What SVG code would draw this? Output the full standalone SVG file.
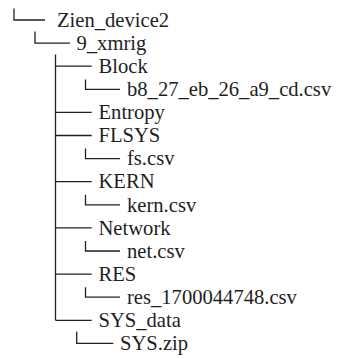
<svg xmlns="http://www.w3.org/2000/svg" width="338" height="359" viewBox="0 0 338 359">
  <style>
    .bg { fill: #ffffff; }
    .label { font-family: "Liberation Serif", "Times New Roman", serif; font-size: 20.6px; fill: #1e1e1e; }
    .edge { fill: none; stroke: #1f1f2a; stroke-width: 1.3; stroke-linecap: butt; }
  </style>
  <rect class="bg" x="0" y="0" width="338" height="359"/>

  <!-- tree branches -->
  <g id="connectors">
    <!-- root -->
    <path class="edge" d="M14,8.5 V20 H45"/>
    <!-- 9_xmrig -->
    <path class="edge" d="M35,31.5 V43.1 H70"/>
    <!-- trunk for the children of 9_xmrig -->
    <path class="edge" d="M55.5,54.6 V320.3"/>
    <path class="edge" d="M55.5,66.2 H91.7"/>
    <path class="edge" d="M55.5,112.4 H91.7"/>
    <path class="edge" d="M55.5,135.5 H91.7"/>
    <path class="edge" d="M55.5,181.7 H91.7"/>
    <path class="edge" d="M55.5,227.9 H91.7"/>
    <path class="edge" d="M55.5,274.1 H91.7"/>
    <path class="edge" d="M55.5,320.3 H91.7"/>
    <!-- leaf files -->
    <path class="edge" d="M85.5,79.5 V89.3 H120"/>
    <path class="edge" d="M85.5,148.6 V158.6 H120"/>
    <path class="edge" d="M85.5,194.8 V204.8 H120"/>
    <path class="edge" d="M85.5,241 V251 H120"/>
    <path class="edge" d="M85.5,287.2 V297.2 H120"/>
    <path class="edge" d="M76.7,331.7 V343.4 H113.3"/>
  </g>

  <g id="zien_device2"><text class="label" x="57" y="26.7">Zien_device2</text></g>
  <g id="xmrig"><text class="label" x="76.5" y="49.8">9_xmrig</text></g>
  <g id="block"><text class="label" x="98.5" y="72.9">Block</text></g>
  <g id="block_csv"><text class="label" x="127" y="96">b8_27_eb_26_a9_cd.csv</text></g>
  <g id="entropy"><text class="label" x="98.5" y="119.1">Entropy</text></g>
  <g id="flsys"><text class="label" x="98.5" y="142.2">FLSYS</text></g>
  <g id="fs_csv"><text class="label" x="127" y="165.3">fs.csv</text></g>
  <g id="kern"><text class="label" x="98.5" y="188.4">KERN</text></g>
  <g id="kern_csv"><text class="label" x="127" y="211.5">kern.csv</text></g>
  <g id="network"><text class="label" x="98.5" y="234.6">Network</text></g>
  <g id="net_csv"><text class="label" x="127" y="257.7">net.csv</text></g>
  <g id="res"><text class="label" x="98.5" y="280.8">RES</text></g>
  <g id="res_csv"><text class="label" x="127" y="303.9">res_1700044748.csv</text></g>
  <g id="sys_data"><text class="label" x="98.5" y="327">SYS_data</text></g>
  <g id="sys_zip"><text class="label" x="120" y="350.1">SYS.zip</text></g>
</svg>
